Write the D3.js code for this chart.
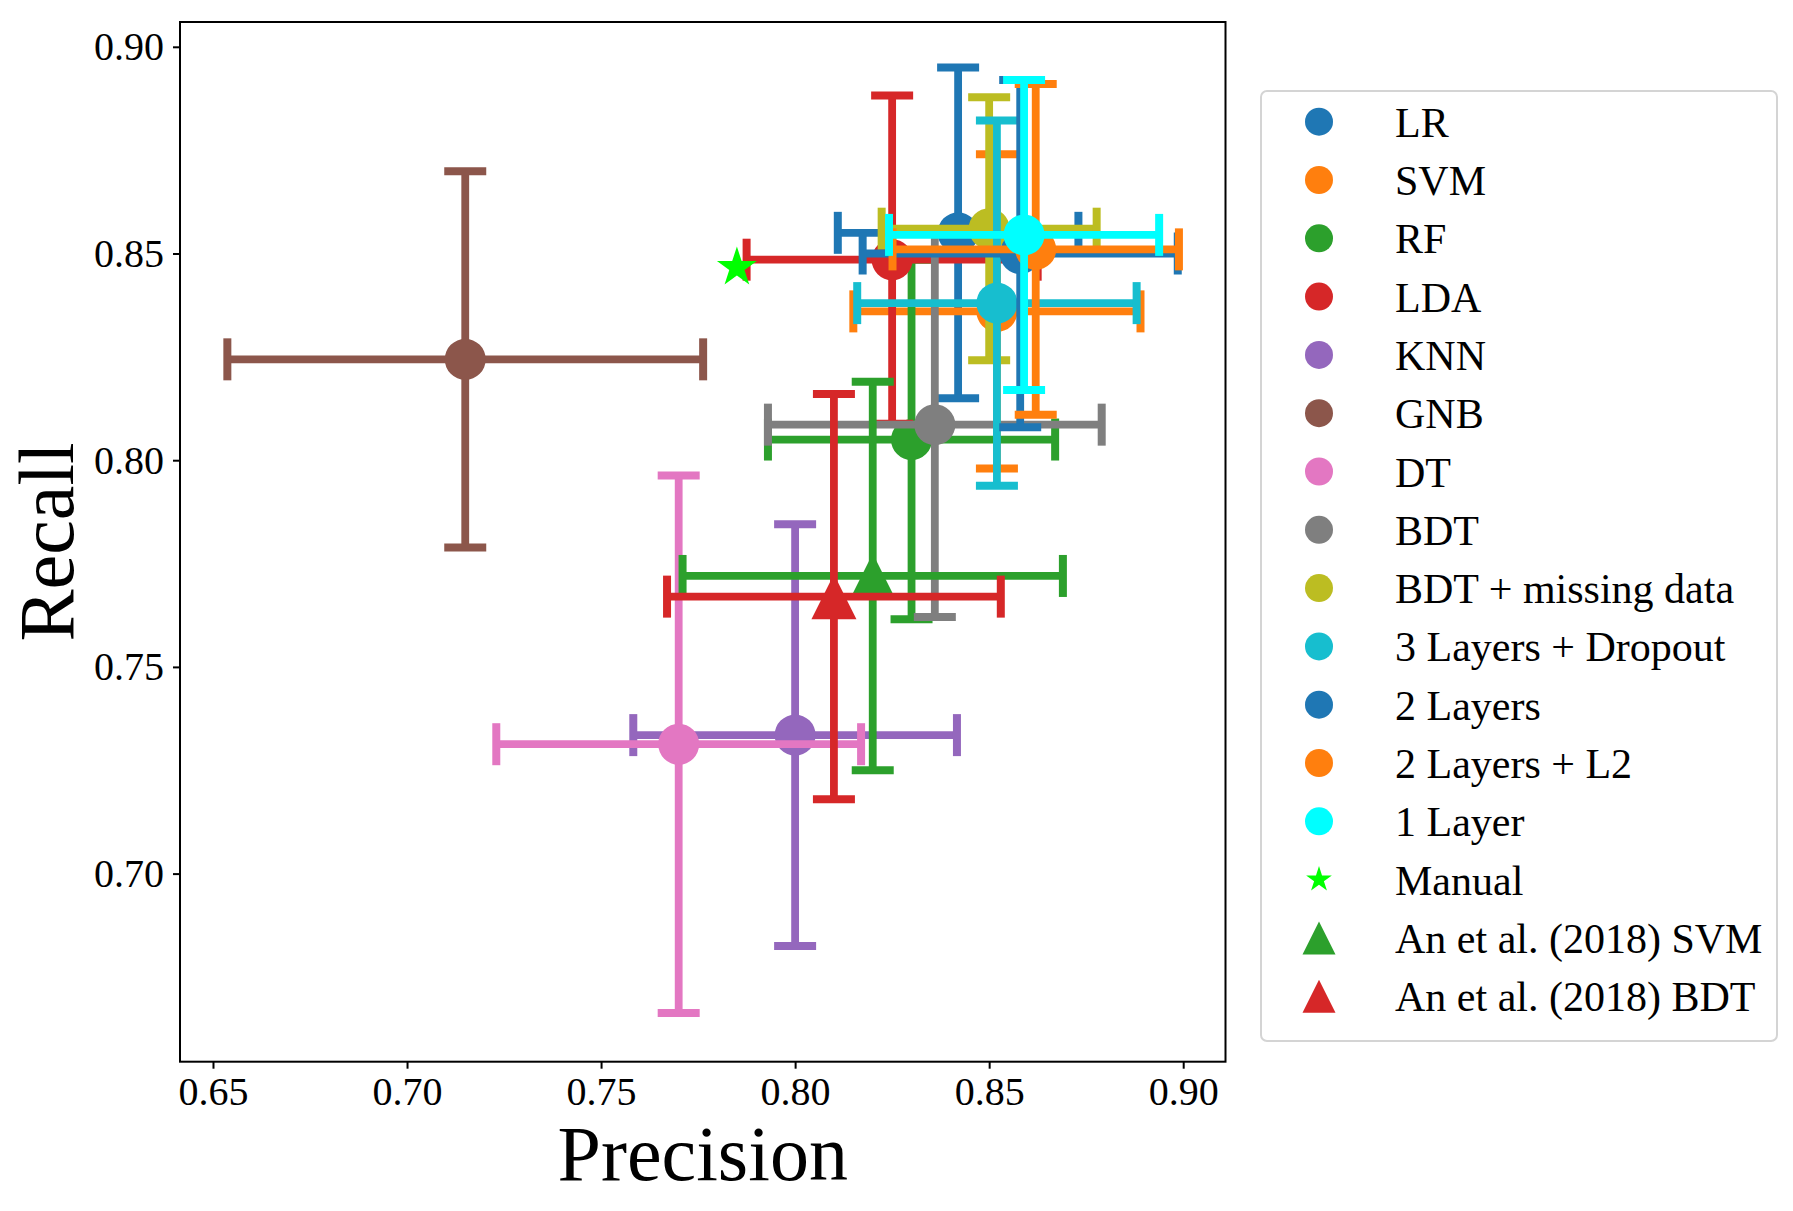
<!DOCTYPE html>
<html>
<head>
<meta charset="utf-8">
<script src="https://cdn.jsdelivr.net/npm/d3@7"></script>
<style>
    body { margin: 0; background: #fff; }
    text { font-family: "Liberation Serif", "DejaVu Serif", serif; fill: #000; }
</style>
</head>
<body>
<div id="chart"></div>
<script>
var names = ['LR', 'SVM', 'RF', 'LDA', 'KNN', 'GNB', 'DT', 'BDT', 'BDT + missing data',
    '3 Layers + Dropout', '2 Layers', '2 Layers + L2', '1 Layer', 'Manual',
    'An et al. (2018) SVM', 'An et al. (2018) BDT'];
var precision    = [0.842, 0.852, 0.830, 0.825, 0.800, 0.715, 0.770, 0.836, 0.850, 0.852, 0.858, 0.862, 0.859, 0.785, 0.820, 0.810];
var recall       = [0.855, 0.836, 0.805, 0.8485, 0.7335, 0.8244, 0.7313, 0.8086, 0.856, 0.838, 0.850, 0.851, 0.8545, 0.8466, 0.772, 0.767];
var precisionErr = [0.031, 0.037, 0.037, 0.0375, 0.0417, 0.0613, 0.047, 0.043, 0.0277, 0.036, 0.0406, 0.0369, 0.0348, null, 0.049, 0.043];
var recallErr    = [0.040, 0.038, 0.0435, 0.0397, 0.051, 0.0455, 0.065, 0.0465, 0.0318, 0.0442, 0.042, 0.040, 0.0375, null, 0.047, 0.049];
var colors = ['#1f77b4', '#ff7f0e', '#2ca02c', '#d62728', '#9467bd', '#8c564b', '#e377c2', '#7f7f7f',
    '#bcbd22', '#17becf', '#1f77b4', '#ff7f0e', '#00ffff', '#00ff00', '#2ca02c', '#d62728'];
var shapes = ['circle', 'circle', 'circle', 'circle', 'circle', 'circle', 'circle', 'circle', 'circle',
    'circle', 'circle', 'circle', 'circle', 'star', 'triangle', 'triangle'];
var xTicks = [0.65, 0.70, 0.75, 0.80, 0.85, 0.90];
var yTicks = [0.70, 0.75, 0.80, 0.85, 0.90];

var dim = {
    width: 1793, height: 1211,
    plot: { left: 180, right: 1225.5, top: 22, bottom: 1061.7 },
    marker: { circle: 41, triangle: 45, star: 42 },
    cap: 21
};

var x = d3.scaleLinear().domain([0.6415, 0.9109]).range([dim.plot.left, dim.plot.right]);
var y = d3.scaleLinear().domain([0.6545, 0.906]).range([dim.plot.bottom, dim.plot.top]);

function markerPath(shape, s) {
    var h = s / 2;
    if (shape === 'circle') return d3.symbol(d3.symbolCircle, Math.PI * h * h)();
    if (shape === 'triangle') return 'M0,' + (-h) + 'L' + h + ',' + h + 'L' + (-h) + ',' + h + 'Z';
    var p = d3.path();
    for (var i = 0; i < 10; i++) {
        var a = -Math.PI / 2 + i * Math.PI / 5;
        var r = i % 2 ? h * 0.382 : h;
        if (i === 0) p.moveTo(r * Math.cos(a), r * Math.sin(a));
        else p.lineTo(r * Math.cos(a), r * Math.sin(a));
    }
    p.closePath();
    return p.toString();
}

var svg = d3.select('#chart').append('svg')
    .attr('width', dim.width)
    .attr('height', dim.height);

svg.append('rect').attr('width', dim.width).attr('height', dim.height).attr('fill', '#fff');

// one group per series, drawn in order: bars then marker
var series = svg.append('g').selectAll('g.series')
    .data(names.map(function(n, i) { return i; }))
    .enter().append('g')
    .attr('class', 'series');

series.each(function(i) {
    var g = d3.select(this);
    var cx = x(precision[i]), cy = y(recall[i]);
    var c = colors[i];
    if (precisionErr[i] !== null) {
        var x0 = x(precision[i] - precisionErr[i]), x1 = x(precision[i] + precisionErr[i]);
        var y0 = y(recall[i] - recallErr[i]), y1 = y(recall[i] + recallErr[i]);
        g.append('line').attr('x1', x0).attr('x2', x1).attr('y1', cy).attr('y2', cy)
            .attr('stroke', c).attr('stroke-width', 7.8);
        g.append('line').attr('x1', cx).attr('x2', cx).attr('y1', y0).attr('y2', y1)
            .attr('stroke', c).attr('stroke-width', 7.8);
        [x0, x1].forEach(function(xx) {
            g.append('line').attr('x1', xx).attr('x2', xx)
                .attr('y1', cy - dim.cap).attr('y2', cy + dim.cap)
                .attr('stroke', c).attr('stroke-width', 8);
        });
        [y0, y1].forEach(function(yy) {
            g.append('line').attr('y1', yy).attr('y2', yy)
                .attr('x1', cx - dim.cap).attr('x2', cx + dim.cap)
                .attr('stroke', c).attr('stroke-width', 8);
        });
    }
    g.append('path')
        .attr('d', markerPath(shapes[i], dim.marker[shapes[i]]))
        .attr('transform', 'translate(' + cx + ',' + cy + ')')
        .attr('fill', c);
});

// axes
var xAxis = d3.axisBottom(x).tickValues(xTicks).tickFormat(d3.format('.2f')).tickSize(7).tickPadding(8);
var yAxis = d3.axisLeft(y).tickValues(yTicks).tickFormat(d3.format('.2f')).tickSize(7).tickPadding(9);

var gx = svg.append('g').attr('transform', 'translate(0,' + dim.plot.bottom + ')').call(xAxis);
var gy = svg.append('g').attr('transform', 'translate(' + dim.plot.left + ',0)').call(yAxis);
[gx, gy].forEach(function(g) {
    g.select('.domain').remove();
    g.selectAll('.tick line').attr('stroke', '#000').attr('stroke-width', 2);
    g.selectAll('.tick text').style('font-size', '40px').attr('fill', '#000');
});

svg.append('rect')
    .attr('x', dim.plot.left).attr('y', dim.plot.top)
    .attr('width', dim.plot.right - dim.plot.left)
    .attr('height', dim.plot.bottom - dim.plot.top)
    .attr('fill', 'none').attr('stroke', '#000').attr('stroke-width', 2);

svg.append('text')
    .attr('x', (dim.plot.left + dim.plot.right) / 2)
    .attr('y', 1180)
    .style('font-size', '78px')
    .style('text-anchor', 'middle')
    .text('Precision');

svg.append('text')
    .attr('transform', 'translate(73,' + (dim.plot.top + dim.plot.bottom) / 2 + ') rotate(-90)')
    .style('font-size', '78px')
    .style('text-anchor', 'middle')
    .text('Recall');

// legend
var legend = svg.append('g');
legend.append('rect')
    .attr('x', 1261).attr('y', 91)
    .attr('width', 516).attr('height', 950)
    .attr('rx', 6)
    .attr('fill', '#fff').attr('fill-opacity', 0.8)
    .attr('stroke', '#d4d4d4').attr('stroke-width', 2);

var legendSize = { circle: 28, triangle: 33, star: 27 };
var item = legend.selectAll('g.item')
    .data(names.map(function(n, i) { return i; }))
    .enter().append('g')
    .attr('class', 'item')
    .attr('transform', function(i) { return 'translate(1319,' + (121.7 + i * 58.3) + ')'; });

item.append('path')
    .attr('d', function(i) { return markerPath(shapes[i], legendSize[shapes[i]]); })
    .attr('fill', function(i) { return colors[i]; });

item.append('text')
    .attr('x', 76)
    .attr('y', 15)
    .style('font-size', '42px')
    .text(function(i) { return names[i]; });
</script>
</body>
</html>
